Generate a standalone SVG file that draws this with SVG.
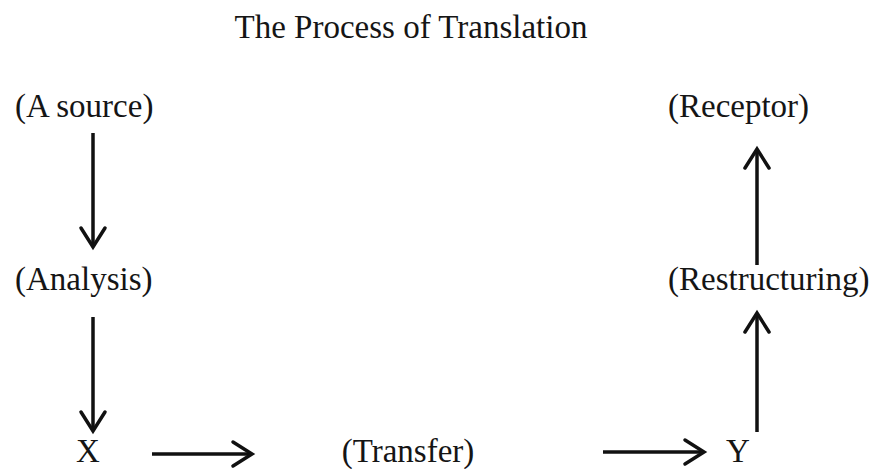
<svg xmlns="http://www.w3.org/2000/svg" width="878" height="469" viewBox="0 0 878 469">
<defs>
<style>
text{font-family:"Liberation Serif","Times New Roman",serif;fill:#151515;font-size:33px}
.ln{stroke:#111;stroke-width:3.5;fill:none}
.hd{stroke:#111;stroke-width:3.5;fill:none;stroke-linecap:round;stroke-linejoin:miter}
</style>
</defs>
<rect width="878" height="469" fill="#fff"/>
<text x="411" y="38" text-anchor="middle" font-size="32">The Process of Translation</text>
<g id="source"><text x="15" y="117">(A source)</text></g>
<g id="analysis"><text x="15" y="290">(Analysis)</text></g>
<g id="x"><text x="88" y="462" text-anchor="middle">X</text></g>
<g id="transfer"><text x="408" y="462" text-anchor="middle">(Transfer)</text></g>
<g id="y"><text x="738" y="462" text-anchor="middle">Y</text></g>
<g id="restructuring"><text x="668" y="290">(Restructuring)</text></g>
<g id="receptor"><text x="668" y="117">(Receptor)</text></g>
<g id="connectors">
<line class="ln" x1="93" y1="133" x2="93" y2="246"/>
<polyline class="hd" points="81,228 93,247 105,228"/>
<line class="ln" x1="93" y1="317" x2="93" y2="430"/>
<polyline class="hd" points="81,412 93,431 105,412"/>
<line class="ln" x1="152" y1="454" x2="251" y2="454"/>
<polyline class="hd" points="233,442 252,454 233,466"/>
<line class="ln" x1="603" y1="452" x2="703" y2="452"/>
<polyline class="hd" points="685,440 704,452 685,464"/>
<line class="ln" x1="757" y1="432" x2="757" y2="314"/>
<polyline class="hd" points="745,332 757,313 769,332"/>
<line class="ln" x1="757" y1="265" x2="757" y2="150"/>
<polyline class="hd" points="745,168 757,149 769,168"/>
</g>
</svg>
